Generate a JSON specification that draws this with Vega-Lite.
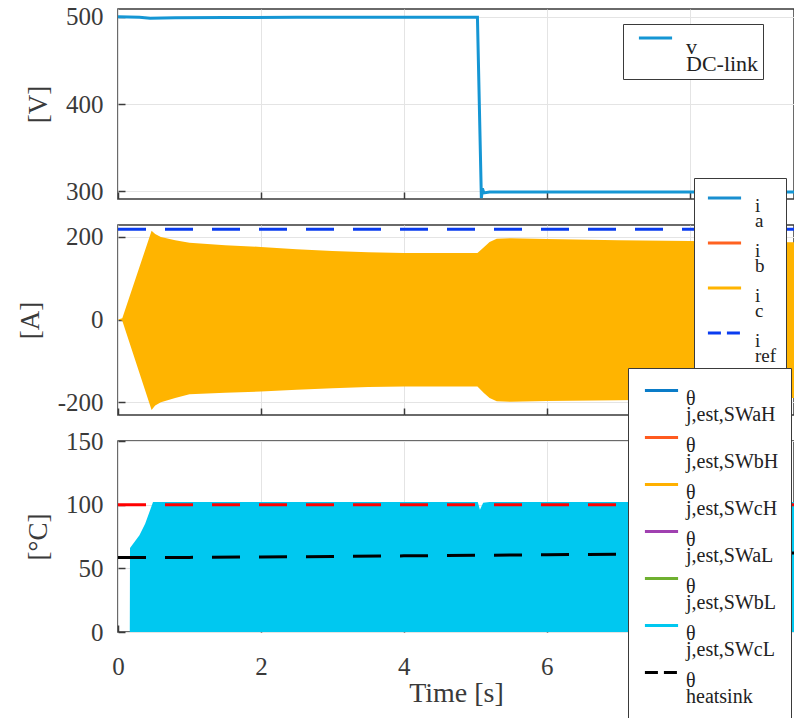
{
  "$schema": "https://vega.github.io/schema/vega-lite/v6.json",
  "padding": {"left": 15, "top": 4, "right": 0, "bottom": 0},
  "bounds": "flush",
  "spacing": 26,
  "resolve": {"scale": {"color": "independent"}, "legend": {"color": "independent"}},
  "config": {
    "font": "Liberation Serif",
    "view": {"stroke": "#3a3a3a", "strokeWidth": 1.5},
    "axis": {
      "labelFont": "Liberation Serif", "labelFontSize": 25, "labelColor": "#3a3a3a",
      "titleFont": "Liberation Serif", "titleFontSize": 27, "titleFontWeight": "normal", "titleColor": "#3a3a3a",
      "domain": false, "tickSize": -7, "tickColor": "#3a3a3a", "tickWidth": 1.5,
      "gridColor": "#e4e4e4", "gridWidth": 1, "labelFlush": false, "format": "d",
      "labelExpr": "replace(datum.label, '\u2212', '-')"
    },
    "legend": {
      "labelFont": "Liberation Serif", "labelFontSize": 22, "labelColor": "#222",
      "strokeColor": "#3a3a3a", "fillColor": "white",
      "symbolSize": 1100, "symbolStrokeWidth": 3, "labelLimit": 400
    }
  },
  "datasets": {
    "volt": [
      {"t": 0, "v": 500, "s": "DC-link"}, {"t": 0.3, "v": 499.6, "s": "DC-link"},
      {"t": 0.45, "v": 498.3, "s": "DC-link"}, {"t": 0.8, "v": 499.0, "s": "DC-link"},
      {"t": 1.5, "v": 499.3, "s": "DC-link"}, {"t": 2.5, "v": 499.4, "s": "DC-link"},
      {"t": 3.5, "v": 499.4, "s": "DC-link"}, {"t": 4.5, "v": 499.4, "s": "DC-link"},
      {"t": 5.03, "v": 499.4, "s": "DC-link"}, {"t": 5.085, "v": 292, "s": "DC-link"},
      {"t": 5.1, "v": 303, "s": "DC-link"}, {"t": 5.12, "v": 298, "s": "DC-link"},
      {"t": 5.2, "v": 299, "s": "DC-link"}, {"t": 6, "v": 299, "s": "DC-link"},
      {"t": 7, "v": 299, "s": "DC-link"}, {"t": 8, "v": 299, "s": "DC-link"},
      {"t": 9, "v": 299, "s": "DC-link"}, {"t": 9.46, "v": 299, "s": "DC-link"}
    ],
    "curr": [
      {"t": 0, "hi": 0, "lo": 0}, {"t": 0.06, "hi": 3, "lo": -3},
      {"t": 0.47, "hi": 215, "lo": -219}, {"t": 0.52, "hi": 207, "lo": -208},
      {"t": 0.6, "hi": 200, "lo": -200}, {"t": 0.8, "hi": 192, "lo": -190},
      {"t": 1.0, "hi": 186, "lo": -181}, {"t": 1.5, "hi": 180, "lo": -177},
      {"t": 2.0, "hi": 176, "lo": -174}, {"t": 2.5, "hi": 170, "lo": -170},
      {"t": 3.0, "hi": 166, "lo": -166}, {"t": 3.5, "hi": 163, "lo": -163},
      {"t": 4.0, "hi": 161, "lo": -162}, {"t": 4.5, "hi": 161, "lo": -162},
      {"t": 5.03, "hi": 161, "lo": -162}, {"t": 5.12, "hi": 175, "lo": -178},
      {"t": 5.2, "hi": 188, "lo": -190}, {"t": 5.3, "hi": 196, "lo": -198},
      {"t": 5.5, "hi": 197, "lo": -199}, {"t": 6.0, "hi": 195, "lo": -197},
      {"t": 7.0, "hi": 192, "lo": -195}, {"t": 8.0, "hi": 190, "lo": -193},
      {"t": 9.0, "hi": 188, "lo": -191}, {"t": 9.46, "hi": 187, "lo": -190}
    ],
    "iref": [
      {"t": 0, "i": 219, "s": "ref"}, {"t": 9.46, "i": 219, "s": "ref"}
    ],
    "temp": [
      {"t": 0, "hi": 0, "lo": 0}, {"t": 0.165, "hi": 0, "lo": 0},
      {"t": 0.168, "hi": 66, "lo": 0}, {"t": 0.3, "hi": 76, "lo": 0},
      {"t": 0.38, "hi": 85, "lo": 0}, {"t": 0.49, "hi": 102, "lo": 0},
      {"t": 1.0, "hi": 102, "lo": 0}, {"t": 2.0, "hi": 102, "lo": 0},
      {"t": 3.0, "hi": 102, "lo": 0}, {"t": 4.0, "hi": 102, "lo": 0},
      {"t": 5.035, "hi": 102, "lo": 0}, {"t": 5.065, "hi": 96, "lo": 0},
      {"t": 5.11, "hi": 101.5, "lo": 0}, {"t": 5.2, "hi": 102, "lo": 0},
      {"t": 6.0, "hi": 102, "lo": 0}, {"t": 7.0, "hi": 102, "lo": 0},
      {"t": 8.0, "hi": 102, "lo": 0}, {"t": 9.46, "hi": 102, "lo": 0}
    ],
    "tlines": [
      {"t": 0, "y": 58.5, "s": "heatsink"}, {"t": 1, "y": 58.6, "s": "heatsink"},
      {"t": 2, "y": 58.9, "s": "heatsink"}, {"t": 3, "y": 59.3, "s": "heatsink"},
      {"t": 4, "y": 59.8, "s": "heatsink"}, {"t": 5, "y": 60.2, "s": "heatsink"},
      {"t": 6, "y": 60.7, "s": "heatsink"}, {"t": 7, "y": 61.1, "s": "heatsink"},
      {"t": 8, "y": 61.5, "s": "heatsink"}, {"t": 9.46, "y": 62, "s": "heatsink"},
      {"t": 0, "y": 100, "s": "j,ref,max"}, {"t": 9.46, "y": 100, "s": "j,ref,max"}
    ]
  },
  "vconcat": [
    {
      "width": 676, "height": 190,
      "data": {"name": "volt"},
      "mark": {"type": "line", "strokeWidth": 3, "clip": true},
      "encoding": {
        "x": {"field": "t", "type": "quantitative", "scale": {"domain": [0, 9.46], "nice": false},
              "axis": {"labels": false, "title": null, "values": [0, 2, 4, 6, 8]}},
        "y": {"field": "v", "type": "quantitative", "scale": {"domain": [291, 509], "nice": false, "zero": false},
              "axis": {"title": "[V]", "values": [300, 400, 500], "labelPadding": 22, "titlePadding": 13, "labelFont": "Liberation Serif"}},
        "color": {"field": "s", "type": "nominal",
                  "scale": {"domain": ["DC-link"], "range": ["#1596d4"]},
                  "legend": {"title": null, "orient": "none", "legendX": 505, "legendY": 15,
                             "padding": 4, "symbolOffset": 10, "labelOffset": 12, "labelFont": "Liberation Serif",
                             "symbolType": "M-1,-0.512H1",
                             "labelExpr": "['v', '\u00a0\u00a0' + datum.label + '\u00a0\u00a0\u00a0']",
                             "encode": {"labels": {"update": {"font": {"value": "Liberation Serif"}, "lineHeight": {"value": 17}}}}}}
      }
    },
    {
      "width": 676, "height": 190,
      "layer": [
        {
          "data": {"name": "curr"},
          "mark": {"type": "area", "color": "#ffb400", "clip": true},
          "encoding": {
            "x": {"field": "t", "type": "quantitative", "scale": {"domain": [0, 9.46], "nice": false},
                  "axis": {"labels": false, "title": null, "values": [0, 2, 4, 6, 8]}},
            "y": {"field": "hi", "type": "quantitative", "scale": {"domain": [-231, 229], "nice": false},
                  "axis": {"title": "[A]", "values": [-200, 0, 200], "labelPadding": 22, "titlePadding": 13, "labelFont": "Liberation Serif"}},
            "y2": {"field": "lo"}
          }
        },
        {
          "data": {"name": "iref"},
          "mark": {"type": "line", "strokeWidth": 3, "strokeDash": [28, 19], "clip": true},
          "encoding": {
            "x": {"field": "t", "type": "quantitative"},
            "y": {"field": "i", "type": "quantitative"},
            "color": {"field": "s", "type": "nominal",
                      "scale": {"domain": ["a", "b", "c", "ref"], "range": ["#1a8fd0", "#ff6220", "#ffb400", "#0a3cf0"]},
                      "legend": {"title": null, "orient": "none", "legendX": 576, "legendY": -47,
                                 "padding": 9, "symbolOffset": 3, "labelOffset": 12, "rowPadding": 1,
                                 "labelFont": "Liberation Serif", "labelFontSize": 19,
                                 "symbolType": "M-1,-0.45H1",
                                 "labelExpr": "['i', '\u00a0' + datum.label + '\u00a0\u00a0\u00a0\u00a0\u00a0\u00a0\u00a0\u00a0\u00a0\u00a0\u00a0\u00a0']",
                                 "encode": {
                                   "labels": {"update": {"font": {"value": "Liberation Serif"}, "lineHeight": {"value": 15}}},
                                   "symbols": {"update": {"strokeDash": {"signal": "datum.value == 'ref' ? [13, 6] : [1, 0]"}}}
                                 }}}
          }
        }
      ]
    },
    {
      "width": 676, "height": 191,
      "layer": [
        {
          "data": {"name": "temp"},
          "mark": {"type": "area", "color": "#00c8f0", "clip": true},
          "encoding": {
            "x": {"field": "t", "type": "quantitative", "scale": {"domain": [0, 9.46], "nice": false},
                  "axis": {"title": "Time [s]", "values": [0, 2, 4, 6, 8], "labelPadding": 29, "titlePadding": 0, "titleFontSize": 28, "labelFont": "Liberation Serif"}},
            "y": {"field": "hi", "type": "quantitative", "scale": {"domain": [0, 150], "nice": false},
                  "axis": {"title": "[°C]", "values": [0, 50, 100, 150], "labelPadding": 22, "titlePadding": 13, "labelFont": "Liberation Serif"}},
            "y2": {"field": "lo"}
          }
        },
        {
          "data": {"name": "tlines"},
          "mark": {"type": "line", "strokeWidth": 3, "strokeDash": [28, 19], "clip": true},
          "encoding": {
            "x": {"field": "t", "type": "quantitative"},
            "y": {"field": "y", "type": "quantitative"},
            "detail": {"field": "s"},
            "color": {"field": "s", "type": "nominal",
                      "scale": {"domain": ["j,est,SWaH", "j,est,SWbH", "j,est,SWcH", "j,est,SWaL", "j,est,SWbL", "j,est,SWcL", "heatsink", "j,ref,max"],
                                "range": ["#0a7cc8", "#ff5a1f", "#ffb000", "#a040b0", "#6fb030", "#00c8f0", "#000000", "#ff0000"]},
                      "legend": {"title": null, "orient": "none", "legendX": 510, "legendY": -73,
                                 "padding": 12, "symbolOffset": 3, "labelOffset": 6, "rowPadding": 2,
                                 "labelFont": "Liberation Serif", "labelFontSize": 20,
                                 "symbolType": "M-1,-0.48H1",
                                 "labelExpr": "['θ', '\u00a0\u00a0' + datum.label + '\u00a0\u00a0\u00a0\u00a0\u00a0\u00a0']",
                                 "encode": {
                                   "labels": {"update": {"font": {"value": "Liberation Serif"}, "lineHeight": {"value": 16}}},
                                   "symbols": {"update": {"strokeDash": {"signal": "datum.value == 'heatsink' || datum.value == 'j,ref,max' ? [13, 6] : [1, 0]"}}}
                                 }}}
          }
        }
      ]
    }
  ]
}
